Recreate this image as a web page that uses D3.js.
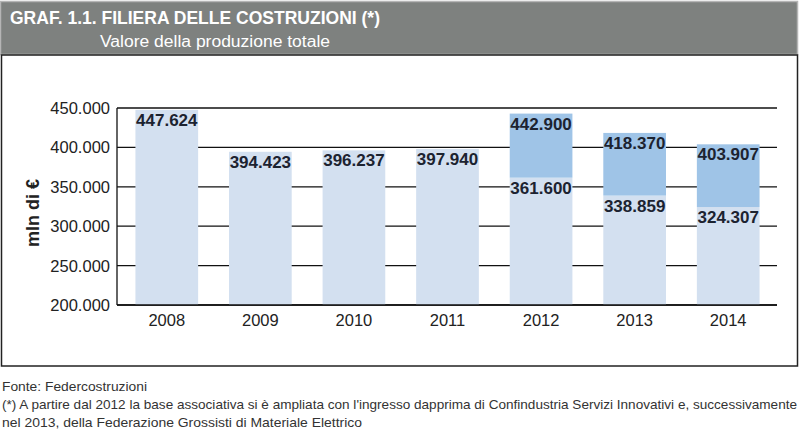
<!DOCTYPE html>
<html><head><meta charset="utf-8">
<script src="https://cdn.jsdelivr.net/npm/d3@7"></script>
<style>body{margin:0;background:#fff}svg{display:block}</style>
</head><body>
<svg id="c" width="800" height="436"></svg>
<script>
const years = ["2008","2009","2010","2011","2012","2013","2014"];
const baseValues = [447624, 394423, 396237, 397940, 361600, 338859, 324307];
const totalValues = [null, null, null, null, 442900, 418370, 403907];
const yTicks = [200000, 250000, 300000, 350000, 400000, 450000];

const fmt = v => d3.format(",")(v).replace(/,/g, ".");
const svg = d3.select("#c");
const font = "'Liberation Sans', Arial, sans-serif";

// header
svg.append("rect").attr("x",0.5).attr("y",1.5).attr("width",797).attr("height",53)
  .attr("fill","#7e817f").attr("stroke","#b5b5b5").attr("stroke-width",1.5);
svg.append("text").attr("x",10).attr("y",24).attr("fill","#fff").attr("font-family",font)
  .attr("font-weight","bold").attr("font-size",18).attr("textLength",370).attr("lengthAdjust","spacingAndGlyphs")
  .text("GRAF. 1.1. FILIERA DELLE COSTRUZIONI (*)");
svg.append("text").attr("x",100).attr("y",47).attr("fill","#fff").attr("font-family",font)
  .attr("font-size",16).attr("textLength",230).attr("lengthAdjust","spacingAndGlyphs")
  .text("Valore della produzione totale");

// box
svg.append("rect").attr("x",1.5).attr("y",55).attr("width",796).attr("height",311)
  .attr("fill","none").attr("stroke","#222").attr("stroke-width",1.5);

const x = d3.scaleBand().domain(years).range([120,775]).paddingInner(0.33).paddingOuter(0.165);
const y = d3.scaleLinear().domain([200000,450000]).range([305,108]);

// gridlines
svg.append("g").selectAll("line").data(yTicks).join("line")
  .attr("x1",117).attr("x2",777).attr("y1",d=>y(d)).attr("y2",d=>y(d))
  .attr("stroke","#111").attr("stroke-width",1.3);

const data = years.map((yr,i)=>({yr, base:baseValues[i], total:totalValues[i]}));

// base bars
svg.append("g").selectAll("rect").data(data).join("rect")
  .attr("x",d=>x(d.yr)).attr("width",x.bandwidth())
  .attr("y",d=>y(d.base)).attr("height",d=>y(200000)-y(d.base))
  .attr("fill","#d3e0f0");
// top segments
svg.append("g").selectAll("rect").data(data.filter(d=>d.total)).join("rect")
  .attr("x",d=>x(d.yr)).attr("width",x.bandwidth())
  .attr("y",d=>y(d.total)).attr("height",d=>y(d.base)-y(d.total))
  .attr("fill","#9fc4e7");

// axis lines
svg.append("line").attr("x1",117).attr("x2",117).attr("y1",y(450000)).attr("y2",y(200000))
  .attr("stroke","#111").attr("stroke-width",1.3);
svg.append("line").attr("x1",117).attr("x2",777).attr("y1",y(200000)).attr("y2",y(200000))
  .attr("stroke","#111").attr("stroke-width",1.5);

// y tick labels
svg.append("g").selectAll("text").data(yTicks).join("text")
  .attr("x",110).attr("y",d=>y(d)+6).attr("text-anchor","end")
  .attr("font-family",font).attr("font-size",16.5).attr("fill","#222").text(d=>fmt(d));

// x labels
svg.append("g").selectAll("text").data(years).join("text")
  .attr("x",d=>x(d)+x.bandwidth()/2).attr("y",326).attr("text-anchor","middle")
  .attr("font-family",font).attr("font-size",16.5).attr("fill","#222").text(d=>d);

// y title
svg.append("text").attr("transform","translate(39,213) rotate(-90)").attr("text-anchor","middle")
  .attr("font-family",font).attr("font-weight","bold").attr("font-size",18).attr("fill","#222").text("mln di €");

// value labels
const lab = svg.append("g").attr("font-family",font).attr("font-weight","bold").attr("font-size",17)
  .attr("fill","#1c2330").attr("text-anchor","middle");
lab.selectAll("text.b").data(data).join("text").attr("class","b")
  .attr("x",d=>x(d.yr)+x.bandwidth()/2).attr("y",d=>y(d.base)+16).text(d=>fmt(d.base));
lab.selectAll("text.t").data(data.filter(d=>d.total)).join("text").attr("class","t")
  .attr("x",d=>x(d.yr)+x.bandwidth()/2).attr("y",d=>y(d.total)+16).text(d=>fmt(d.total));

// footer
const foot = [
  {t:"Fonte: Federcostruzioni", y:391, w:145},
  {t:"(*) A partire dal 2012 la base associativa si è ampliata con l'ingresso dapprima di Confindustria Servizi Innovativi e, successivamente", y:409, w:795},
  {t:"nel 2013, della Federazione Grossisti di Materiale Elettrico", y:427, w:360}
];
svg.append("g").selectAll("text").data(foot).join("text")
  .attr("x",2).attr("y",d=>d.y).attr("font-family",font).attr("font-size",13).attr("fill","#333")
  .attr("textLength",d=>d.w).attr("lengthAdjust","spacingAndGlyphs").text(d=>d.t);
</script>
</body></html>
